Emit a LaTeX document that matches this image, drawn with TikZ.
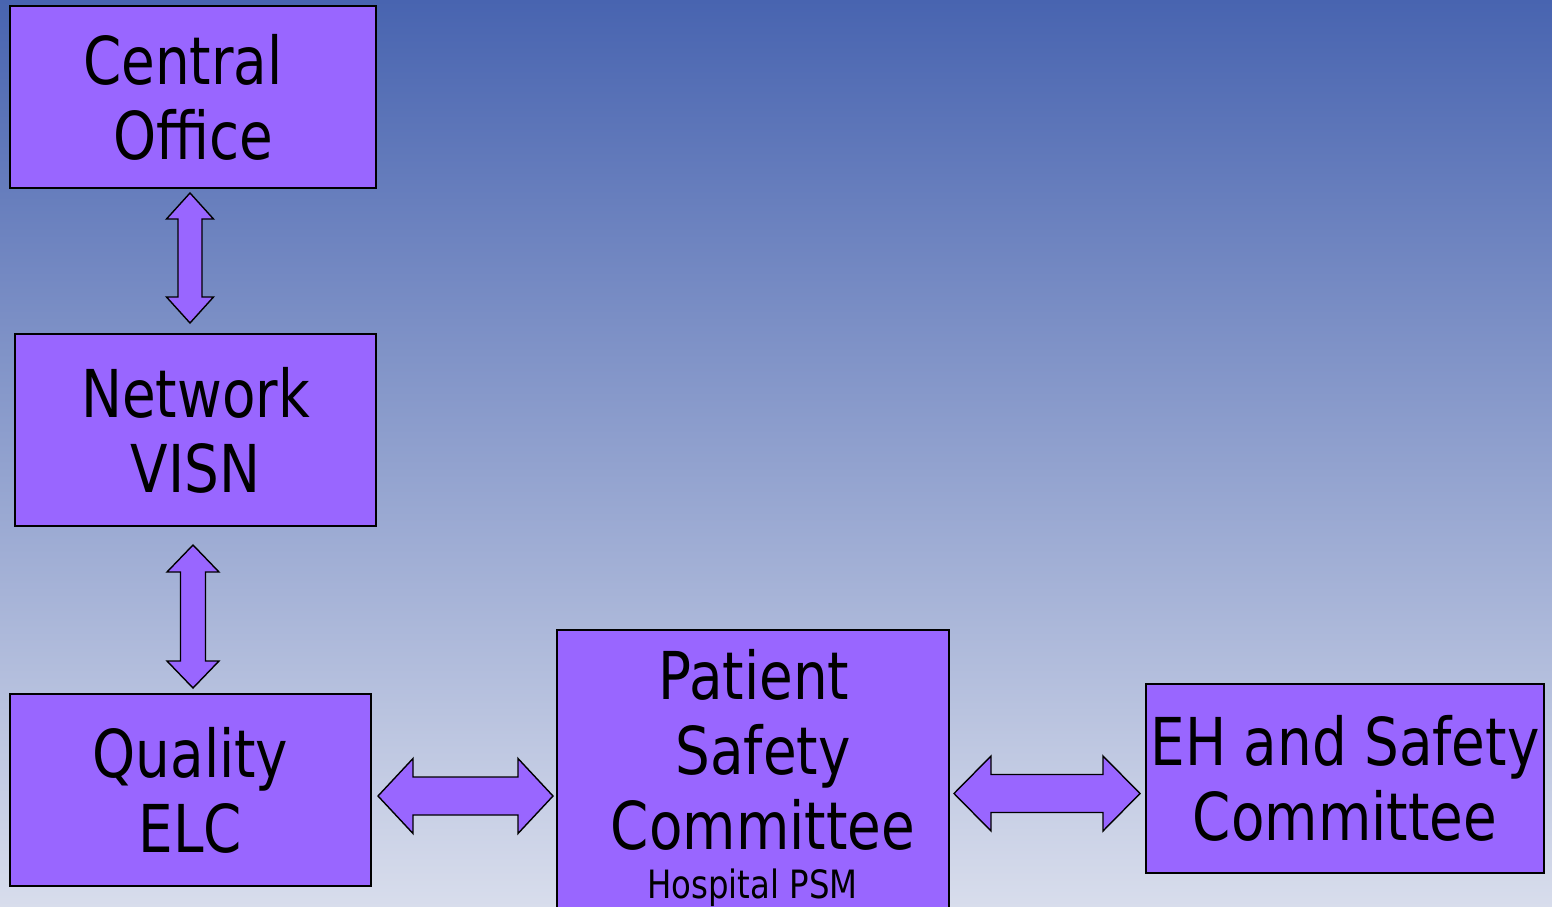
\documentclass[tikz,border=0pt]{standalone}
\usepackage{fontspec}
\setmainfont{DejaVu Sans}[FakeStretch=0.83]
\definecolor{boxfill}{RGB}{153,102,255}
\definecolor{bgtop}{RGB}{72,100,176}
\definecolor{bgbot}{RGB}{216,221,236}
% horizontal double block arrow: x1, x2, y, half head, half shaft, head length
\newcommand\hblockarrow[6]{%
  \draw[blockarrow] (#1,#3) -- (#1+#6,#3-#4) -- (#1+#6,#3-#5) -- (#2-#6,#3-#5) -- (#2-#6,#3-#4)
    -- (#2,#3) -- (#2-#6,#3+#4) -- (#2-#6,#3+#5) -- (#1+#6,#3+#5) -- (#1+#6,#3+#4) -- cycle;}
% vertical double block arrow: y1, y2, x, half head, half shaft, head length
\newcommand\vblockarrow[6]{%
  \draw[blockarrow] (#3,#1) -- (#3-#4,#1+#6) -- (#3-#5,#1+#6) -- (#3-#5,#2-#6) -- (#3-#4,#2-#6)
    -- (#3,#2) -- (#3+#4,#2-#6) -- (#3+#5,#2-#6) -- (#3+#5,#1+#6) -- (#3+#4,#1+#6) -- cycle;}
\begin{document}
\begin{tikzpicture}[x=1pt,y=-1pt,
  box/.style={draw=black,line width=1.5pt,fill=boxfill,rectangle,inner sep=0pt,align=center,font=\fontsize{66}{75}\selectfont},
  bigtext/.style={inner sep=0pt,align=center,font=\fontsize{66}{75}\selectfont},
  smalltext/.style={inner sep=0pt,font=\fontsize{39}{42}\selectfont},
  blockarrow/.style={draw=black,line width=1.4pt,fill=boxfill,line join=miter}]
\shade[top color=bgtop,bottom color=bgbot] (0,0) rectangle (1552,907);
\useasboundingbox (0,0) rectangle (1552,907);
% boxes
\node[box,minimum width=366pt,minimum height=182pt] (co) at (193,97) {Central\hspace*{20pt}\\Office};
\node[box,minimum width=361pt,minimum height=192pt] (nv) at (195.5,430) {Network\\VISN};
\node[box,minimum width=361pt,minimum height=192pt] (qe) at (190.5,790) {Quality\\ELC};
\node[box,minimum width=392pt,minimum height=282pt] (psc) at (753,771) {};
\node[bigtext] (psct) at (763,750) {Patient\hspace*{18pt}\\Safety\\Committee};
\node[smalltext,anchor=base] (psm) at (752.5,898) {Hospital PSM};
\node[box,minimum width=398pt,minimum height=189pt] (eh) at (1345,778.5) {EH and Safety\\Committee};
% block arrows
\vblockarrow{193}{323}{190}{23.5}{12}{26}
\vblockarrow{545}{688}{193}{26}{12.5}{27}
\hblockarrow{378}{553}{796}{37.5}{19}{35}
\hblockarrow{954}{1140}{793.5}{37.5}{19}{37}
\end{tikzpicture}
\end{document}
